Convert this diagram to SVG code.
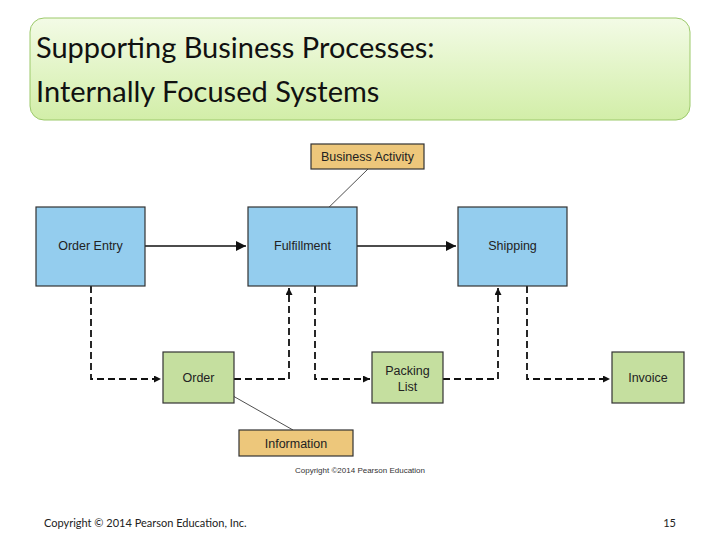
<svg xmlns="http://www.w3.org/2000/svg" width="720" height="540" viewBox="0 0 720 540">
<defs>
<linearGradient id="tg" x1="0" y1="0" x2="0" y2="1"><stop offset="0" stop-color="#f3fbe6"/><stop offset="1" stop-color="#d2eea8"/></linearGradient>
<marker id="ah" viewBox="0 0 10 10" refX="10" refY="5" markerWidth="7" markerHeight="7" orient="auto" markerUnits="userSpaceOnUse"><path d="M0,0L10,5L0,10z" fill="#111"/></marker>
<marker id="ahl" viewBox="0 0 10 10" refX="10" refY="5" markerWidth="10" markerHeight="10" orient="auto" markerUnits="userSpaceOnUse"><path d="M0,0L10,5L0,10z" fill="#111"/></marker>
<style>
.b{fill:#94cdee;stroke:#333;stroke-width:1.2}
.g{fill:#c5df9f;stroke:#333;stroke-width:1.2}
.y{fill:#edc77b;stroke:#333;stroke-width:1.2}
.t{font-family:"Liberation Sans",Arial,sans-serif;font-size:12.5px;fill:#222;text-anchor:middle}
.s{stroke:#111;stroke-width:1.3;fill:none}
.d{stroke:#111;stroke-width:1.8;fill:none;stroke-dasharray:7,4}
</style>
</defs>
<rect x="30" y="18" width="660" height="102" rx="14" fill="url(#tg)" stroke="#9cc96b"/>
<text font-family="Lato,'Open Sans',sans-serif" font-size="29" fill="#111"><tspan x="36" y="58">Supporting Business Processes:</tspan><tspan x="36" y="102">Internally Focused Systems</tspan></text>
<g id="connectors">
<line class="s" x1="145" y1="246" x2="246" y2="246" marker-end="url(#ahl)"/>
<line class="s" x1="357" y1="246" x2="456" y2="246" marker-end="url(#ahl)"/>
<polyline class="d" points="91,286 91,379 161,379" marker-end="url(#ah)"/>
<polyline class="d" points="234,379 289,379 289,288" marker-end="url(#ah)"/>
<polyline class="d" points="315,286 315,379 370,379" marker-end="url(#ah)"/>
<polyline class="d" points="443,379 498,379 498,288" marker-end="url(#ah)"/>
<polyline class="d" points="527,286 527,379 610,379" marker-end="url(#ah)"/>
<line x1="368" y1="169" x2="318" y2="218" stroke="#222" stroke-width="0.8"/>
<line x1="226" y1="392" x2="293" y2="430" stroke="#222" stroke-width="0.8"/>
</g>
<g id="order-entry"><rect class="b" x="36" y="207" width="109" height="79"/><text class="t" x="90.5" y="250">Order Entry</text></g>
<g id="fulfillment"><rect class="b" x="248" y="207" width="109" height="79"/><text class="t" x="302.5" y="250">Fulfillment</text></g>
<g id="shipping"><rect class="b" x="458" y="207" width="109" height="79"/><text class="t" x="512.5" y="250">Shipping</text></g>
<g id="order"><rect class="g" x="163" y="352" width="71" height="51"/><text class="t" x="198.5" y="382">Order</text></g>
<g id="packing-list"><rect class="g" x="372" y="352" width="71" height="51"/><text class="t" x="407.5" y="375">Packing</text><text class="t" x="407.5" y="391">List</text></g>
<g id="invoice"><rect class="g" x="612" y="352" width="72" height="51"/><text class="t" x="648" y="382">Invoice</text></g>
<g id="business-activity"><rect class="y" x="311" y="144" width="113" height="25"/><text class="t" x="367.5" y="161">Business Activity</text></g>
<g id="information"><rect class="y" x="239" y="430" width="114" height="26"/><text class="t" x="296" y="448">Information</text></g>
<text x="360" y="473" font-family="'Liberation Sans',sans-serif" font-size="8" fill="#333" text-anchor="middle">Copyright ©2014 Pearson Education</text>
<text x="44" y="527" font-family="Lato,'Open Sans',sans-serif" font-size="11" fill="#222">Copyright © 2014 Pearson Education, Inc.</text>
<text x="676" y="527" font-family="Lato,'Open Sans',sans-serif" font-size="11" fill="#222" text-anchor="end">15</text>
</svg>
